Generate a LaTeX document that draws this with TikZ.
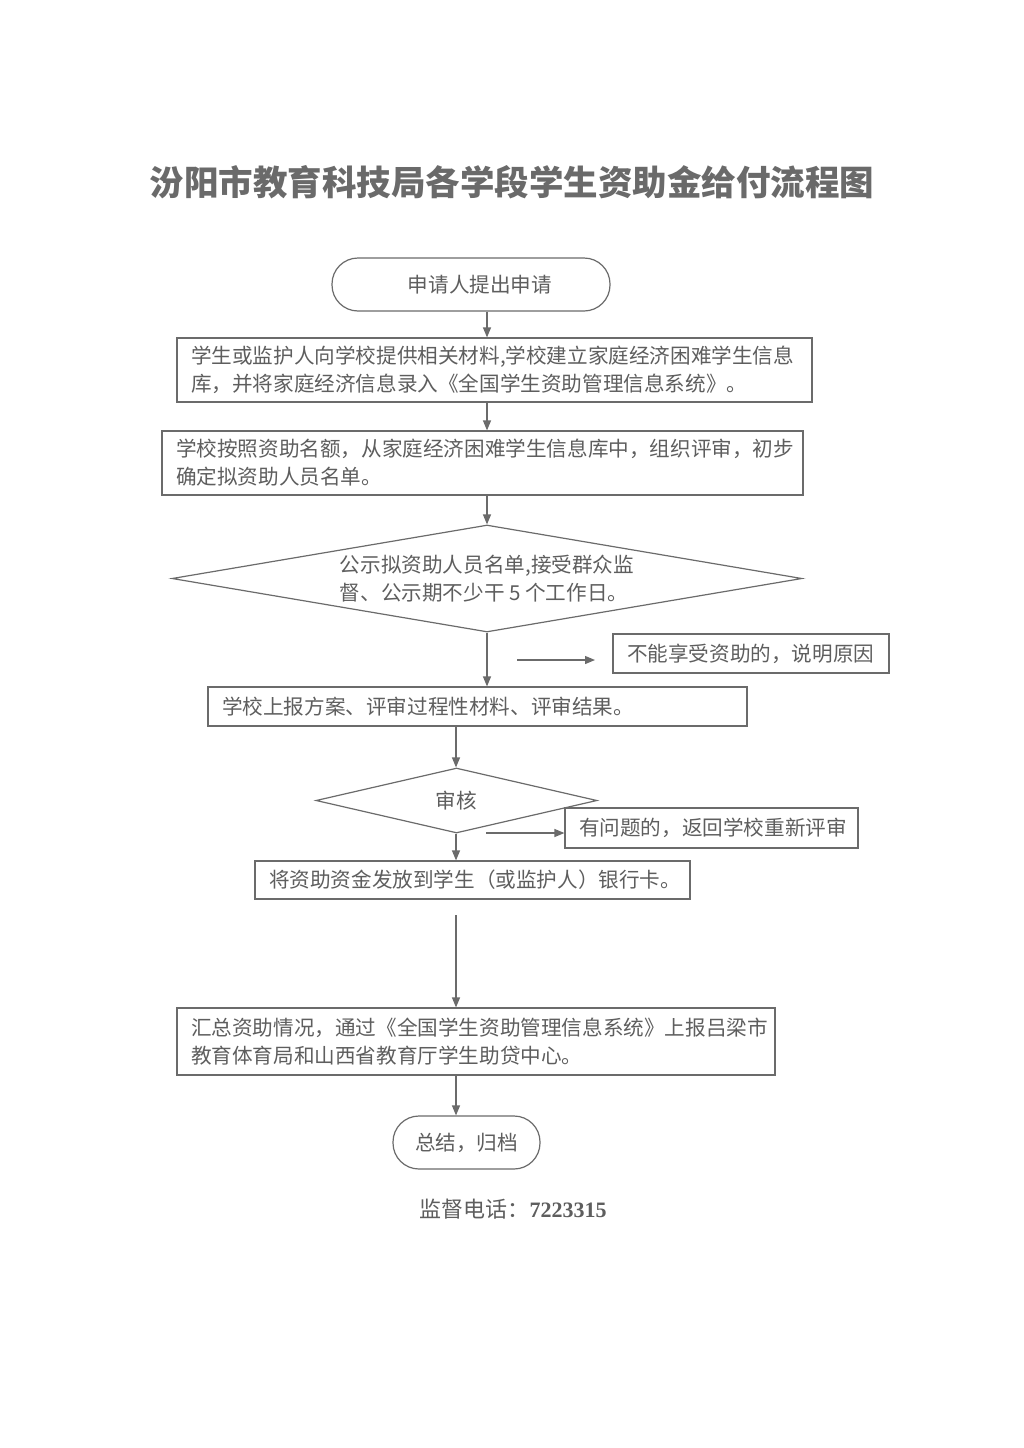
\documentclass[tikz,border=0pt]{standalone}
\usepackage{fontspec}
\usepackage{tikz}
\usetikzlibrary{shapes.geometric,arrows.meta}
\setmainfont{Noto Sans CJK SC}
\newfontfamily\numfont{Liberation Serif}
\definecolor{linegray}{HTML}{6B6B6B}
\definecolor{textgray}{HTML}{5E5E5E}
\definecolor{titlegray}{HTML}{6A6A6A}

\begin{document}
\begin{tikzpicture}[x=1pt,y=-1pt,
  every node/.style={text=textgray,font=\fontsize{20.6}{28}\selectfont},
  box/.style={draw=linegray,line width=1.2pt,rectangle,align=left,inner xsep=14pt,inner ysep=0pt},
  term/.style={draw=linegray,line width=1.2pt,rectangle,rounded corners=26pt,minimum height=53pt},
  choice/.style={draw=linegray,line width=1.2pt,diamond,aspect=5,inner sep=0pt,align=left},
  flow/.style={draw=linegray,line width=1.2pt,-{Triangle[length=10pt,width=8pt]}}]

\useasboundingbox[fill=white] (0,0) rectangle (1024,1448);

\node[font=\fontsize{34.5}{40}\selectfont\bfseries,text=titlegray] (title) at (512,182) {汾阳市教育科技局各学段学生资助金给付流程图};

\node[term,minimum width=278pt] (apply) at (471,284.5) {\hspace{18pt}申请人提出申请};
\node[box,text width=607pt,minimum height=64pt] (info) at (494.5,370) {学生或监护人向学校提供相关材料,学校建立家庭经济困难学生信息\\库，并将家庭经济信息录入《全国学生资助管理信息系统》。};
\node[box,text width=613pt,minimum height=64pt] (select) at (482.5,463) {学校按照资助名额，从家庭经济困难学生信息库中，组织评审，初步\\确定拟资助人员名单。};
\node[choice,minimum width=630pt,minimum height=107pt] (publish) at (487,578.5) {公示拟资助人员名单,接受群众监\\督、公示期不少干 5 个工作日。};
\node[box,text width=248pt,minimum height=39pt] (reject) at (751,653.5) {不能享受资助的，说明原因};
\node[box,text width=511pt,minimum height=39pt] (report) at (477.5,706.5) {学校上报方案、评审过程性材料、评审结果。};
\node[choice,minimum width=281pt,minimum height=65pt] (audit) at (456.5,800.5) {审核};
\node[box,text width=265pt,minimum height=40pt] (redo) at (711.5,828) {有问题的，返回学校重新评审};
\node[box,text width=407pt,minimum height=38pt] (pay) at (472.5,880) {将资助资金发放到学生（或监护人）银行卡。};
\node[box,text width=570pt,minimum height=67pt] (summary) at (476,1041.5) {汇总资助情况，通过《全国学生资助管理信息系统》上报吕梁市\\教育体育局和山西省教育厅学生助贷中心。};
\node[term,minimum width=147pt] (archive) at (466.5,1142.5) {总结，归档};

\node[font=\fontsize{22}{26}\selectfont] (phone) at (513,1209) {监督电话：{\numfont\bfseries 7223315}};

\coordinate (colA) at (487,0);
\coordinate (colB) at (456,0);
\coordinate (noA) at (517,660);
\coordinate (noB) at (595,660);
\coordinate (back) at (486,833);
\coordinate (gap) at (456,915);

\draw[flow] (apply.south -| colA) -- (info.north -| colA);
\draw[flow] (info.south -| colA) -- (select.north -| colA);
\draw[flow] (select.south -| colA) -- (publish.north);
\draw[flow] (publish.south) -- (report.north -| publish.south);
\draw[flow] (noA) -- (noB);
\draw[flow] (report.south -| colB) -- (audit.north -| colB);
\draw[flow] (audit.south -| colB) -- (pay.north -| colB);
\draw[flow] (back) -- (back -| redo.west);
\draw[flow] (gap) -- (gap |- summary.north);
\draw[flow] (summary.south -| colB) -- (archive.north -| colB);

\end{tikzpicture}
\end{document}
